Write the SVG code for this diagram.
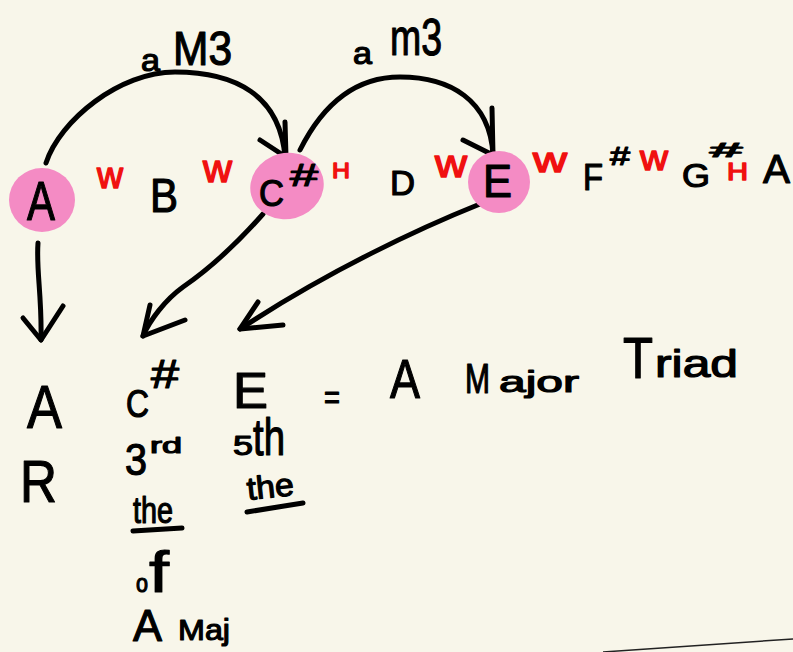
<svg xmlns="http://www.w3.org/2000/svg" width="793" height="652" viewBox="0 0 793 652">
<style>
text{font-family:"Liberation Sans",Arial,sans-serif;fill:#000;stroke:#000;stroke-width:1.2;stroke-linejoin:round}
.r{fill:#f01010;stroke:#f01010;stroke-width:1.4}
.ln{fill:none;stroke:#000;stroke-width:5;stroke-linecap:round;stroke-linejoin:round}
.blob{fill:#f48bc4}
</style>
<rect width="793" height="652" fill="#f8f6ea"/>
<path d="M603,652 L793,639" stroke="#222" stroke-width="1.5" fill="none"/>

<g id="connectors">
<path class="ln" d="M46,163 C60,120 120,72 175,72 C235,72 280,95 285,157"/>
<path class="ln" d="M260,140 L286,157 L285,122"/>
<path class="ln" d="M300,150 C320,110 350,77 400,77 C450,77 490,100 493,155"/>
<path class="ln" d="M463,140 L493,155 L492,108"/>
<path class="ln" d="M38,243 C36,270 42,295 41,340"/>
<path class="ln" d="M23,318 L41,340 L63,306"/>
<path class="ln" d="M263,214 C240,240 215,265 183,287 C165,300 150,320 143,336"/>
<path class="ln" d="M150,305 L143,336 L185,320"/>
<path class="ln" d="M480,204 C420,228 330,270 240,329"/>
<path class="ln" d="M258,302 L240,329 L283,325"/>
<text x="141" y="71" font-size="31" textLength="19" lengthAdjust="spacingAndGlyphs">a</text>
<text x="173" y="65" font-size="48" textLength="59" lengthAdjust="spacingAndGlyphs">M3</text>
<text x="353" y="64" font-size="31" textLength="19" lengthAdjust="spacingAndGlyphs">a</text>
<text x="390" y="55" font-size="52" textLength="52" lengthAdjust="spacingAndGlyphs">m3</text>
</g>

<g id="node-A">
<ellipse class="blob" cx="42" cy="200" rx="33" ry="32"/>
<text x="27" y="220" font-size="56" textLength="28" lengthAdjust="spacingAndGlyphs">A</text>
</g>
<g id="note-B">
<text class="r" x="97" y="188" font-size="36" textLength="26" lengthAdjust="spacingAndGlyphs">w</text>
<text x="150" y="212" font-size="48" textLength="28" lengthAdjust="spacingAndGlyphs">B</text>
<text class="r" x="203" y="182" font-size="38" textLength="29" lengthAdjust="spacingAndGlyphs">w</text>
</g>
<g id="node-Cs">
<ellipse class="blob" cx="287" cy="186" rx="37" ry="33" transform="rotate(-15 287 186)"/>
<text x="259" y="206" font-size="36" textLength="25" lengthAdjust="spacingAndGlyphs">C</text>
<text x="290" y="186" font-size="32" textLength="28" lengthAdjust="spacingAndGlyphs">#</text>
<text class="r" x="332" y="178" font-size="22" textLength="18" lengthAdjust="spacingAndGlyphs">H</text>
</g>
<g id="note-D">
<text x="390" y="195" font-size="35" textLength="25" lengthAdjust="spacingAndGlyphs">D</text>
<text class="r" x="435" y="177" font-size="38" textLength="32" lengthAdjust="spacingAndGlyphs">w</text>
</g>
<g id="node-E">
<circle class="blob" cx="499" cy="182" r="31"/>
<text x="483" y="197" font-size="46" textLength="29" lengthAdjust="spacingAndGlyphs">E</text>
<text class="r" x="533" y="172" font-size="35" textLength="34" lengthAdjust="spacingAndGlyphs">w</text>
</g>
<g id="note-Fs">
<text x="583" y="190" font-size="37" textLength="20" lengthAdjust="spacingAndGlyphs">F</text>
<text x="610" y="165" font-size="26" textLength="20" lengthAdjust="spacingAndGlyphs">#</text>
<text class="r" x="640" y="170" font-size="35" textLength="28" lengthAdjust="spacingAndGlyphs">w</text>
</g>
<g id="note-Gs">
<text x="682" y="187" font-size="33" textLength="28" lengthAdjust="spacingAndGlyphs">G</text>
<text x="710" y="157" font-size="20" textLength="32" lengthAdjust="spacingAndGlyphs">#</text>
<text class="r" x="727" y="180" font-size="23" textLength="21" lengthAdjust="spacingAndGlyphs">H</text>
</g>
<g id="note-A2">
<text x="763" y="183" font-size="41" textLength="27" lengthAdjust="spacingAndGlyphs">A</text>
</g>

<g id="root">
<text x="27" y="428" font-size="62" textLength="35" lengthAdjust="spacingAndGlyphs">A</text>
<text x="20" y="502" font-size="60" textLength="37" lengthAdjust="spacingAndGlyphs">R</text>
</g>
<g id="third">
<text x="126" y="417" font-size="38" textLength="23" lengthAdjust="spacingAndGlyphs">C</text>
<text x="151" y="388" font-size="40" textLength="28" lengthAdjust="spacingAndGlyphs">#</text>
<text x="125" y="475" font-size="45" textLength="22" lengthAdjust="spacingAndGlyphs">3</text>
<text x="150" y="453" font-size="22" textLength="32" lengthAdjust="spacingAndGlyphs">rd</text>
<text x="133" y="523" font-size="36" textLength="40" lengthAdjust="spacingAndGlyphs">the</text>
<path class="ln" d="M133,531 L182,528"/>
<text x="136" y="592" font-size="26" textLength="12" lengthAdjust="spacingAndGlyphs">o</text>
<text x="149" y="592" font-size="58" textLength="20" lengthAdjust="spacingAndGlyphs">f</text>
<text x="133" y="641" font-size="44" textLength="29" lengthAdjust="spacingAndGlyphs">A</text>
<text x="178" y="640" font-size="30" textLength="52" lengthAdjust="spacingAndGlyphs">Maj</text>
</g>
<g id="fifth">
<text x="233" y="408" font-size="50" textLength="35" lengthAdjust="spacingAndGlyphs">E</text>
<text x="233" y="455" font-size="28" textLength="20" lengthAdjust="spacingAndGlyphs">5</text>
<text x="253" y="455" font-size="52" textLength="32" lengthAdjust="spacingAndGlyphs">th</text>
<text x="248" y="500" font-size="32" textLength="47" lengthAdjust="spacingAndGlyphs" transform="rotate(-6 248 500)">the</text>
<path class="ln" d="M247,512 L303,503"/>
</g>
<g id="result">
<text x="324" y="409" font-size="34" textLength="16" lengthAdjust="spacingAndGlyphs">=</text>
<text x="390" y="398" font-size="55" textLength="30" lengthAdjust="spacingAndGlyphs">A</text>
<text x="465" y="393" font-size="42" textLength="25" lengthAdjust="spacingAndGlyphs">M</text>
<text x="499" y="392" font-size="30" textLength="80" lengthAdjust="spacingAndGlyphs">ajor</text>
<text x="623" y="378" font-size="58" textLength="30" lengthAdjust="spacingAndGlyphs">T</text>
<text x="655" y="377" font-size="38" textLength="83" lengthAdjust="spacingAndGlyphs">riad</text>
</g>
</svg>
